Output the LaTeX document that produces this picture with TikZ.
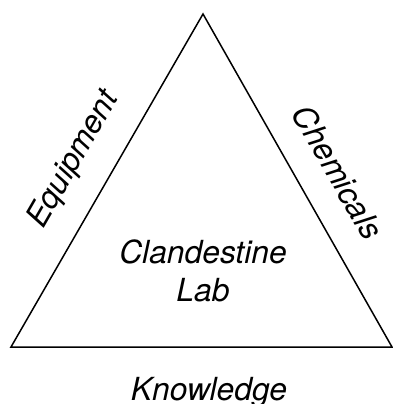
\documentclass[tikz,border=0pt]{standalone}
\usepackage{fontspec}
\setmainfont{TeX Gyre Heros}
\tikzset{lbl/.style={font=\fontsize{31.8}{38}\selectfont\itshape, inner sep=0pt, align=center}}

\begin{document}
\begin{tikzpicture}[x=1pt,y=-1pt]
\useasboundingbox (0,0) rectangle (392,404);
\coordinate (v1) at (203,14);
\coordinate (v2) at (11,347);
\coordinate (v3) at (392,347);

\draw[line width=1.5pt, line join=miter] (v1) -- (v2) -- (v3) -- cycle;

	\node[lbl, rotate=60] (equip) at (74,160) {Equipment};
	\node[lbl, rotate=-60] (chem) at (338,172) {Chemicals};
	\node[lbl] (lab) at (203,271) {Clandestine\\Lab};
	\node[lbl, anchor=base] (know) at (209,400) {Knowledge};

\end{tikzpicture}
\end{document}
